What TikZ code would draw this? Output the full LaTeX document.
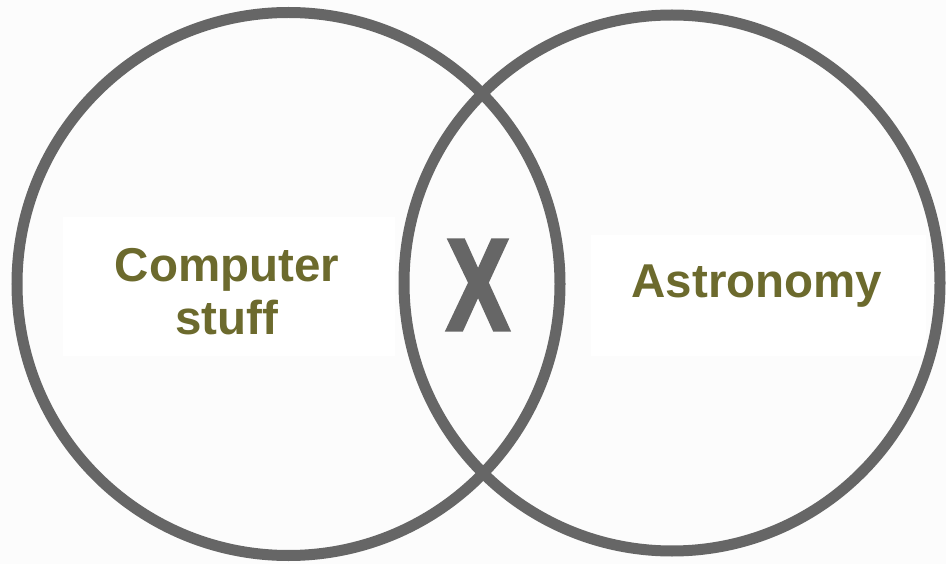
\documentclass[tikz,border=0pt]{standalone}
\usepackage{fontspec}
\setmainfont{Liberation Sans}
\newfontfamily\xfont[FakeStretch=0.72,FakeBold=2.5]{Liberation Sans Bold}
\definecolor{ringgray}{HTML}{666666}
\definecolor{olivetext}{HTML}{6C6A2D}
\definecolor{bgoff}{HTML}{FCFCFC}
\tikzset{
  ring/.style={draw=ringgray, line width=11pt},
  label/.style={text=olivetext, font=\bfseries\fontsize{47.5}{53}\selectfont, inner sep=0pt, align=center},
  whitebox/.style={fill=white, draw=none}
}
\begin{document}
\begin{tikzpicture}[x=1pt,y=-1pt]
\useasboundingbox (0,0) rectangle (946,564);
\fill[bgoff] (0,0) rectangle (946,564);
\fill[white] (63,217) rectangle (395,356);
\fill[white] (591,235) rectangle (926,356);
\node[label, anchor=north] (cs) at (227,248) {Computer\\stuff};
\node[label, anchor=base] (astro) at (757,298) {Astronomy};
\node[inner sep=0pt, text=ringgray, font=\xfont\fontsize{131}{131}\selectfont] (x) at (478,285) {X};
\draw[ring] (288.5,284) circle[radius=271.5];
\draw[ring] (672,283) circle[radius=268];
\end{tikzpicture}
\end{document}
